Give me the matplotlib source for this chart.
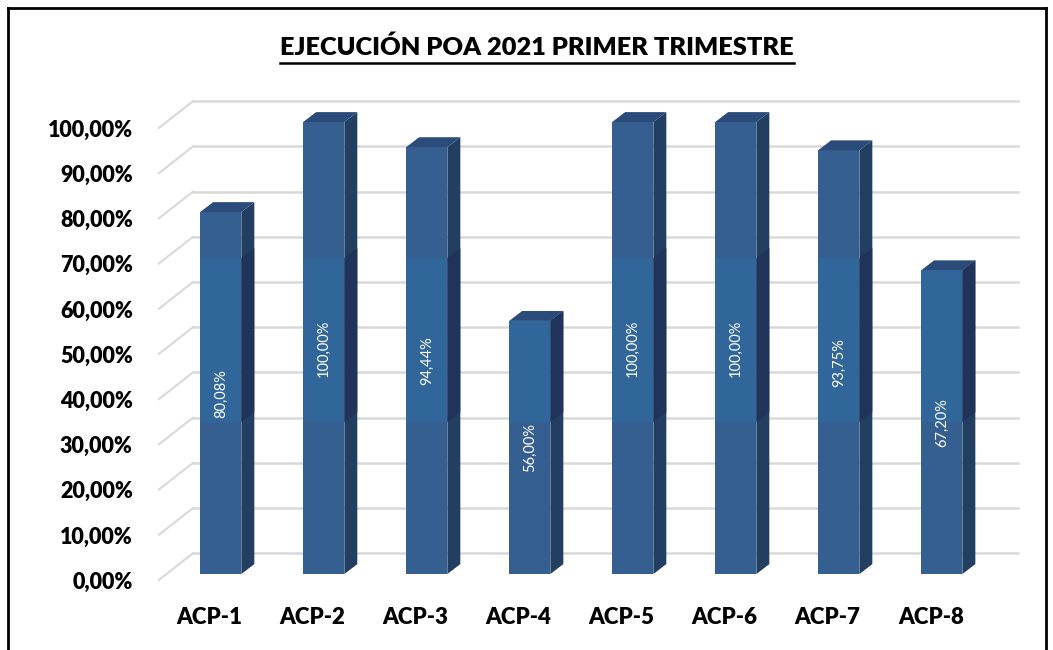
import matplotlib
matplotlib.use("Agg")
import matplotlib.pyplot as plt
from matplotlib.patches import Polygon, Rectangle
from matplotlib.lines import Line2D

# data
categories = ["ACP-1", "ACP-2", "ACP-3", "ACP-4", "ACP-5", "ACP-6", "ACP-7", "ACP-8"]
values = [80.08, 100.00, 94.44, 56.00, 100.00, 100.00, 93.75, 67.20]
yticks = [0, 10, 20, 30, 40, 50, 60, 70, 80, 90, 100]
title = "EJECUCIÓN POA 2021 PRIMER TRIMESTRE"

plt.rcParams['font.family'] = ['Lato', 'DejaVu Sans']

W, H = 1053, 650
fig = plt.figure(figsize=(W / 100, H / 100), dpi=100)
ax = fig.add_axes([0, 0, 1, 1])
ax.set_xlim(-2.143, 8.08)
ax.set_ylim(-16.8, 127.0)
ax.axis("off")

# 3d look (data units)
bw = 0.40          # front face width
bdx, bdy = 0.126, 2.2   # bar depth
gx0, gx1 = -0.60, -0.27  # side wall front/back x
gy0, gy1 = -1.3, 4.6     # floor front/back y offset
gxr = 7.74               # right end of back wall

front = "#355f91"
front_band = "#30669a"
side = "#223e60"
side_band = "#20335a"
top = "#2b4c7a"
band_lo, band_hi = 33.6, 69.9

# grid on the walls
for v in yticks:
    ax.plot([gx0, gx1], [v + gy0, v + gy1], color="#d9d9d9", lw=1.5, zorder=1)
    ax.plot([gx1, gxr], [v + gy1, v + gy1], color="#d9d9d9", lw=1.8, zorder=1)
    ax.text(-0.854, v - 1.8, f"{v:.2f}%".replace(".", ","), ha="right", va="center",
            fontsize=15.5, fontweight="heavy", color="#000000")

for i, v in enumerate(values):
    x0 = i - bw / 2
    x1 = i + bw / 2
    # front face
    ax.add_patch(Rectangle((x0, 0), bw, v, facecolor=front, edgecolor="none", zorder=3))
    # side face
    ax.add_patch(Polygon([(x1, 0), (x1 + bdx, bdy), (x1 + bdx, v + bdy), (x1, v)],
                         closed=True, facecolor=side, edgecolor="none", zorder=3))
    # lighter band
    lo, hi = band_lo, min(v, band_hi)
    if hi > lo:
        ax.add_patch(Rectangle((x0, lo), bw, hi - lo, facecolor=front_band,
                               edgecolor="none", zorder=3.5))
        ax.add_patch(Polygon([(x1, lo), (x1 + bdx, lo + bdy), (x1 + bdx, min(hi + bdy, v + bdy)), (x1, hi)],
                             closed=True, facecolor=side_band, edgecolor="none", zorder=3.5))
    # top face
    ax.add_patch(Polygon([(x0, v), (x0 + bdx, v + bdy), (x1 + bdx, v + bdy), (x1, v)],
                         closed=True, facecolor=top, edgecolor="none", zorder=3))
    ax.text(i, v / 2, f"{v:.2f}%".replace(".", ","), rotation=90, ha="center", va="center",
            fontsize=10.5, color="white", zorder=5)
    ax.text(i - 0.107, -9.5, categories[i], ha="center", va="center",
            fontsize=16, fontweight="heavy", color="#000000")

# title with underline
t = fig.text(537 / W, 1 - 47 / H, title, ha="center", va="center",
             fontsize=18.3, fontweight="heavy", color="#000000")
fig.canvas.draw()
bb = t.get_window_extent()
fig.add_artist(Line2D([bb.x0 / W, bb.x1 / W], [1 - 63 / H] * 2, color="black", lw=1.8))

# outer frame
for xs, ys in [([8, 8], [8, 660]), ([8, 1046], [8, 8]), ([1046, 1046], [8, 660])]:
    fig.add_artist(Line2D([x / W for x in xs], [1 - y / H for y in ys], color="black", lw=2))

fig.savefig("out.png", dpi=100)
